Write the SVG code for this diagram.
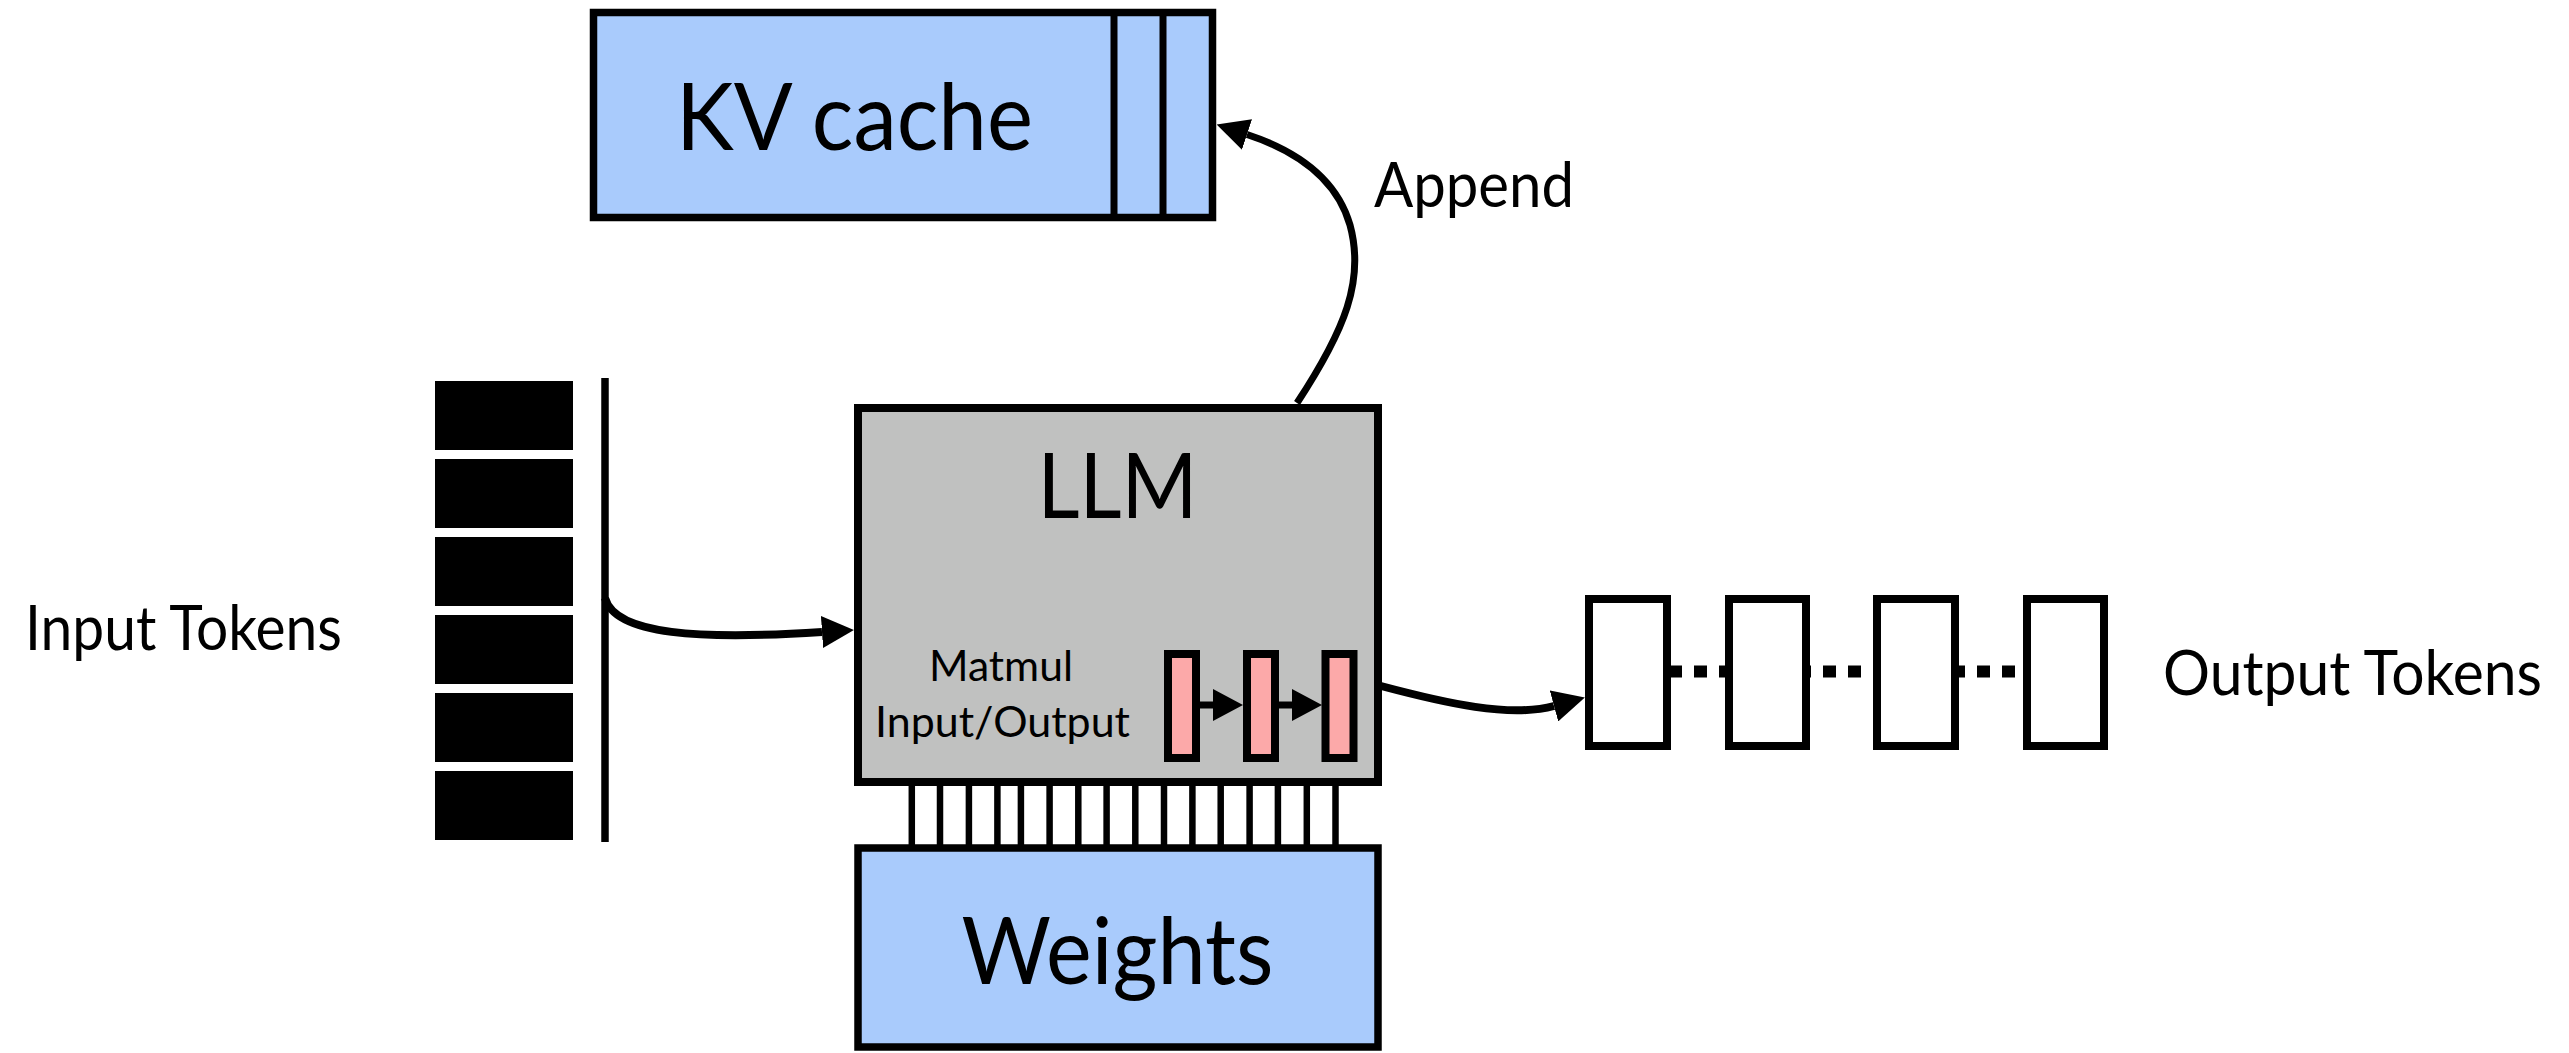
<svg xmlns="http://www.w3.org/2000/svg" width="2569" height="1053" viewBox="0 0 2569 1053">
<style>
text{font-family:Lato,"Open Sans","Liberation Sans",sans-serif;fill:#000}
.blue{fill:#a9cbfc;stroke:#000;stroke-width:7.5}
.gray{fill:#c0c1c0;stroke:#000;stroke-width:8}
.pink{fill:#fca9a9;stroke:#000;stroke-width:8}
.tok{fill:#000}
.otok{fill:#fff;stroke:#000;stroke-width:8}
.conn{fill:none;stroke:#000;stroke-width:7}
.connb{fill:none;stroke:#000;stroke-width:8}
.bar{stroke:#000;stroke-width:6.5}
.dash{stroke:#000;stroke-width:12;stroke-dasharray:13 12}
</style>
<defs>
<marker id="ah" viewBox="0 0 32 32" refX="0" refY="16" markerWidth="32" markerHeight="32" markerUnits="userSpaceOnUse" orient="auto">
<path d="M0,0 L32,16 L0,32 Z" fill="#000"/>
</marker>
<marker id="ahs" viewBox="0 0 30 32" refX="0" refY="16" markerWidth="30" markerHeight="32" markerUnits="userSpaceOnUse" orient="auto">
<path d="M0,0 L30,16 L0,32 Z" fill="#000"/>
</marker>
</defs>
<rect width="2569" height="1053" fill="#fff"/>

<g id="kvcache">
<rect class="blue" x="593.5" y="12.5" width="619" height="205"/>
<line x1="1114" y1="12.5" x2="1114" y2="217.5" stroke="#000" stroke-width="7"/>
<line x1="1163" y1="12.5" x2="1163" y2="217.5" stroke="#000" stroke-width="7"/>
<text x="854.5" y="150" font-size="93" text-anchor="middle" textLength="357" lengthAdjust="spacingAndGlyphs">KV cache</text>
</g>

<g id="input-tokens">
<rect class="tok" x="435" y="381" width="138" height="69"/>
<rect class="tok" x="435" y="459" width="138" height="69"/>
<rect class="tok" x="435" y="537" width="138" height="69"/>
<rect class="tok" x="435" y="615" width="138" height="69"/>
<rect class="tok" x="435" y="693" width="138" height="69"/>
<rect class="tok" x="435" y="771" width="138" height="69"/>
<line x1="605" y1="378" x2="605" y2="842" stroke="#000" stroke-width="7.5"/>
<text x="25" y="650" font-size="62" textLength="317" lengthAdjust="spacingAndGlyphs">Input Tokens</text>
</g>

<g id="llm">
<rect class="gray" x="858" y="408" width="520" height="374"/>
<text x="1117.5" y="518" font-size="91" text-anchor="middle" textLength="160" lengthAdjust="spacingAndGlyphs">LLM</text>
<text x="1001" y="681" font-size="43" text-anchor="middle" textLength="144" lengthAdjust="spacingAndGlyphs">Matmul</text>
<text x="1002.5" y="737" font-size="43" text-anchor="middle" textLength="255" lengthAdjust="spacingAndGlyphs">Input/Output</text>
<rect class="pink" x="1168" y="654" width="28" height="104"/>
<rect class="pink" x="1247" y="654" width="28" height="104"/>
<rect class="pink" x="1325.5" y="654" width="28" height="104"/>
<line x1="1200" y1="705" x2="1213" y2="705" stroke="#000" stroke-width="7" marker-end="url(#ahs)"/>
<line x1="1279" y1="705" x2="1292" y2="705" stroke="#000" stroke-width="7" marker-end="url(#ahs)"/>
</g>

<g id="bus">
<line class="bar" x1="911.8" y1="786" x2="911.8" y2="845"/>
<line class="bar" x1="940" y1="786" x2="940" y2="845"/>
<line class="bar" x1="968.9" y1="786" x2="968.9" y2="845"/>
<line class="bar" x1="997.4" y1="786" x2="997.4" y2="845"/>
<line class="bar" x1="1020.9" y1="786" x2="1020.9" y2="845"/>
<line class="bar" x1="1049.6" y1="786" x2="1049.6" y2="845"/>
<line class="bar" x1="1078.3" y1="786" x2="1078.3" y2="845"/>
<line class="bar" x1="1106.6" y1="786" x2="1106.6" y2="845"/>
<line class="bar" x1="1135.3" y1="786" x2="1135.3" y2="845"/>
<line class="bar" x1="1164" y1="786" x2="1164" y2="845"/>
<line class="bar" x1="1192.4" y1="786" x2="1192.4" y2="845"/>
<line class="bar" x1="1220.7" y1="786" x2="1220.7" y2="845"/>
<line class="bar" x1="1249.6" y1="786" x2="1249.6" y2="845"/>
<line class="bar" x1="1277.9" y1="786" x2="1277.9" y2="845"/>
<line class="bar" x1="1306.8" y1="786" x2="1306.8" y2="845"/>
<line class="bar" x1="1335.5" y1="786" x2="1335.5" y2="845"/>
</g>

<g id="weights">
<rect class="blue" x="858" y="848" width="520" height="199" stroke-width="8"/>
<text x="1117.5" y="984" font-size="93" text-anchor="middle" textLength="312" lengthAdjust="spacingAndGlyphs">Weights</text>
</g>

<g id="output-tokens">
<line class="dash" x1="1669" y1="671.5" x2="1729" y2="671.5"/>
<line class="dash" x1="1798" y1="671.5" x2="1875" y2="671.5"/>
<line class="dash" x1="1952" y1="671.5" x2="2026" y2="671.5"/>
<rect class="otok" x="1589" y="599" width="78" height="147"/>
<rect class="otok" x="1729" y="599" width="77" height="147"/>
<rect class="otok" x="1877" y="599" width="78" height="147"/>
<rect class="otok" x="2027" y="599" width="77" height="147"/>
<text x="2163" y="695" font-size="62" textLength="379" lengthAdjust="spacingAndGlyphs">Output Tokens</text>
</g>

<g id="append-label">
<text x="1374" y="207" font-size="62" textLength="200" lengthAdjust="spacingAndGlyphs">Append</text>
</g>

<g id="connectors">
<path class="connb" d="M605,598 C615,635 700,640 822,632" marker-end="url(#ah)"/>
<path class="conn" d="M1297,403 C1345,330 1365,280 1350,225 C1337,180 1300,152 1247,134.5" marker-end="url(#ah)"/>
<path class="connb" d="M1381,686 C1445,703 1510,718 1554,706" marker-end="url(#ah)"/>
</g>
</svg>
